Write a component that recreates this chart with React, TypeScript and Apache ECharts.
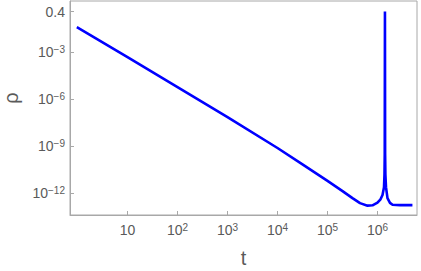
import React, { useEffect, useRef } from "react";
import * as echarts from "echarts";

const tValues = [
  0.97, 10, 100, 1e3, 1e4, 3.16e4, 1e5, 2.0e5, 3.16e5, 4.47e5, 6.31e5, 7.94e5,
  1e6, 1.15e6, 1.26e6, 1.35e6, 1.38e6, 1.396e6, 1.41e6, 1.422e6, 1.439e6,
  1.479e6, 1.585e6, 1.778e6, 2.0e6, 2.82e6, 5.0e6,
];
const rhoValues = [
  0.04, 4.9e-4, 6.0e-6, 7.4e-8, 7.9e-10, 7.1e-11, 6.3e-12, 1.41e-12, 5.0e-13,
  2.4e-13, 1.66e-13, 1.74e-13, 2.6e-13, 4.2e-13, 7.9e-13, 2.5e-12, 1.6e-11,
  3.2e-10, 0.4, 3.2e-10, 1.6e-11, 2.5e-12, 5.0e-13, 2.5e-13, 1.9e-13, 1.78e-13,
  1.78e-13,
];
const xTicks = [10, 1e2, 1e3, 1e4, 1e5, 1e6];
const yTicks = [0.4, 1e-3, 1e-6, 1e-9, 1e-12];

const AXIS_COLOR = "#a8a8a8";
const LABEL_COLOR = "#5a5a5a";
const FONT = "Liberation Sans, Arial, sans-serif";

function fmt(v: number): string {
  if (Math.abs(v - 0.4) < 1e-9) return "0.4";
  const e = Math.round(Math.log10(v));
  if (e === 1) return "10";
  const s = e < 0 ? "\u2212" + -e : String(e);
  return "10{sup|" + s + "}";
}

const richSup = {
  sup: {
    fontSize: 10,
    lineHeight: 8,
    verticalAlign: "top",
    color: LABEL_COLOR,
    fontFamily: FONT,
  },
};

export default function App() {
  const ref = useRef<HTMLDivElement>(null);
  useEffect(() => {
    if (!ref.current) return;
    const chart = echarts.init(ref.current, undefined, { renderer: "svg" });
    const data = tValues.map((t, i) => [t, rhoValues[i]]);
    chart.setOption({
      animation: false,
      backgroundColor: "#ffffff",
      grid: {
        left: 70,
        top: 1,
        width: 347,
        height: 214,
        show: true,
        borderColor: AXIS_COLOR,
        borderWidth: 1,
        containLabel: false,
        outerBoundsMode: "none",
      },
      xAxis: {
        type: "log",
        logBase: 10,
        min: 0.708,
        max: 6.17e6,
        name: "t",
        nameLocation: "middle",
        nameGap: 33,
        nameTextStyle: { fontSize: 20, color: LABEL_COLOR, fontFamily: FONT },
        axisLine: { show: true, lineStyle: { color: AXIS_COLOR, width: 1 } },
        axisTick: {
          show: true,
          inside: true,
          length: 4,
          customValues: xTicks,
          lineStyle: { color: AXIS_COLOR },
        },
        minorTick: { show: false },
        splitLine: { show: false },
        axisLabel: {
          show: true,
          customValues: xTicks,
          margin: 7,
          fontSize: 14,
          lineHeight: 15,
          color: LABEL_COLOR,
          fontFamily: FONT,
          formatter: (v: number) => fmt(v),
          rich: richSup,
        },
      },
      yAxis: {
        type: "log",
        logBase: 10,
        min: 4.2e-14,
        max: 1.88,
        name: "\u03c1",
        nameLocation: "middle",
        nameGap: 49,
        nameTextStyle: {
          fontSize: 20,
          color: LABEL_COLOR,
          fontFamily: FONT,
          padding: [0, 0, 0, 20],
        },
        axisLine: { show: true, lineStyle: { color: AXIS_COLOR, width: 1 } },
        axisTick: {
          show: true,
          inside: true,
          length: 4,
          customValues: yTicks,
          lineStyle: { color: AXIS_COLOR },
        },
        minorTick: { show: false },
        splitLine: { show: false },
        axisLabel: {
          show: true,
          customValues: yTicks,
          margin: 5,
          fontSize: 14,
          lineHeight: 15,
          color: LABEL_COLOR,
          fontFamily: FONT,
          formatter: (v: number) => fmt(v),
          rich: richSup,
        },
      },
      series: [
        {
          type: "line",
          data,
          showSymbol: false,
          symbol: "none",
          lineStyle: { color: "#0000ff", width: 2.6 },
          clip: true,
        },
      ],
    });
    return () => chart.dispose();
  }, []);
  return (
    <div
      ref={ref}
      style={{ position: "absolute", left: 0, top: 0, width: 421, height: 271 }}
    />
  );
}
